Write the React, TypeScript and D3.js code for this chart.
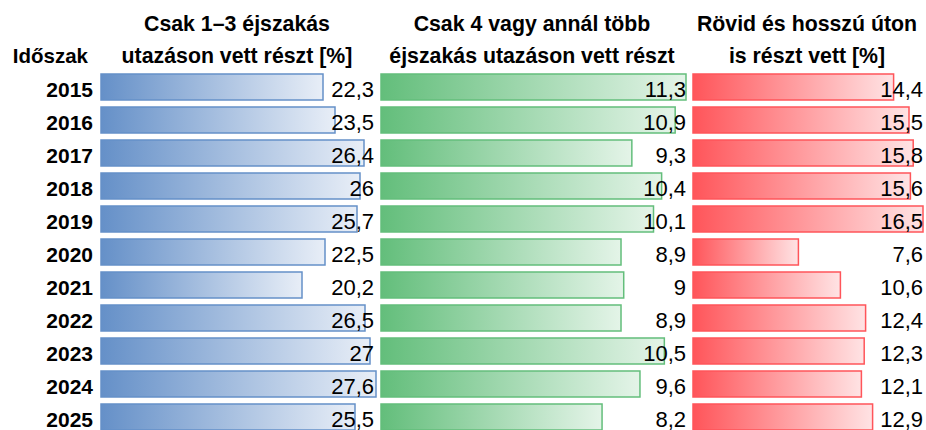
import React from "react";
import * as d3 from "d3";

const years = ["2015", "2016", "2017", "2018", "2019", "2020", "2021", "2022", "2023", "2024", "2025"];
const shortTrips = [22.3, 23.5, 26.4, 26, 25.7, 22.5, 20.2, 26.5, 27, 27.6, 25.5];
const longTrips = [11.3, 10.9, 9.3, 10.4, 10.1, 8.9, 9, 8.9, 10.5, 9.6, 8.2];
const bothTrips = [14.4, 15.5, 15.8, 15.6, 16.5, 7.6, 10.6, 12.4, 12.3, 12.1, 12.9];
const rowHeader = "Időszak";
const colHeaders = [
  ["Csak 1–3 éjszakás", "utazáson vett részt [%]"],
  ["Csak 4 vagy annál több", "éjszakás utazáson vett részt"],
  ["Rövid és hosszú úton", "is részt vett [%]"],
];

const W = 926;
const H = 430;
const FONT = "'Liberation Sans', Arial, sans-serif";

const columns = [
  { id: "blue", values: shortTrips, color: "#6590c8", end: "#e8eef7", x0: 100, x1: 376, textRight: 374, center: 237 },
  { id: "green", values: longTrips, color: "#63be7b", end: "#e4f4e8", x0: 380, x1: 686, textRight: 686, center: 532 },
  { id: "red", values: bothTrips, color: "#ff555a", end: "#ffe3e4", x0: 692, x1: 923, textRight: 923, center: 807 },
];

const fmt = (v: number) => String(v).replace(".", ",");

export default function App() {
  const y = d3
    .scaleBand<string>()
    .domain(years)
    .range([70.5, 433.5])
    .paddingInner(0.212)
    .paddingOuter(0.106);

  return (
    <svg
      width={W}
      height={H}
      viewBox={`0 0 ${W} ${H}`}
      style={{ position: "absolute", left: 0, top: 0, background: "#fff" }}
      fontFamily={FONT}
    >
      <defs>
        {columns.map((c) => (
          <linearGradient key={c.id} id={`grad-${c.id}`} x1="0" x2="1" y1="0" y2="0">
            <stop offset="0" stopColor={c.color} />
            <stop offset="1" stopColor={c.end} />
          </linearGradient>
        ))}
      </defs>

      <text x={88} y={63} textAnchor="end" fontWeight="bold" fontSize={20.5}>
        {rowHeader}
      </text>
      {columns.map((c, i) => (
        <g key={"h" + c.id}>
          <text x={c.center} y={31} textAnchor="middle" fontWeight="bold" fontSize={21.3}>
            {colHeaders[i][0]}
          </text>
          <text x={c.center} y={63} textAnchor="middle" fontWeight="bold" fontSize={21.3}>
            {colHeaders[i][1]}
          </text>
        </g>
      ))}

      {years.map((yr) => (
        <text key={"y" + yr} x={93} y={(y(yr) ?? 0) + 23} textAnchor="end" fontWeight="bold" fontSize={21}>
          {yr}
        </text>
      ))}

      {columns.map((c) => {
        const x = d3.scaleLinear().domain([0, d3.max(c.values) as number]).range([c.x0, c.x1]);
        const barStart = c.x0 + 1;
        return (
          <g key={"c" + c.id}>
            {c.values.map((v, i) => {
              const top = y(years[i]) ?? 0;
              return (
                <rect
                  key={"b" + i}
                  x={barStart}
                  y={top}
                  width={Math.max(0, x(v) - barStart)}
                  height={y.bandwidth()}
                  fill={`url(#grad-${c.id})`}
                  stroke={c.color}
                  strokeWidth={1.5}
                />
              );
            })}
            {c.values.map((v, i) => (
              <text
                key={"t" + i}
                x={c.textRight}
                y={(y(years[i]) ?? 0) + 23}
                textAnchor="end"
                fontSize={22}
                fill="#000"
              >
                {fmt(v)}
              </text>
            ))}
          </g>
        );
      })}
    </svg>
  );
}
